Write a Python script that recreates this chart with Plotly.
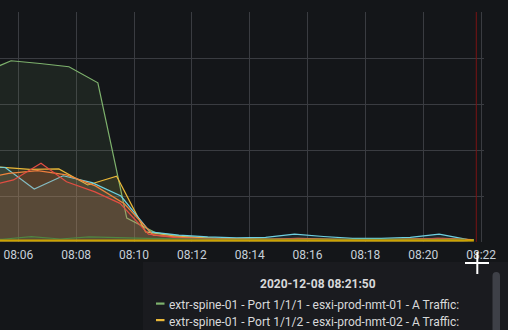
import plotly.graph_objects as go

DATE = "2020-12-08 "

# ---- data (values in Gb/s) ----
green_times = ["08:04:45", "08:05:45", "08:06:45", "08:07:45", "08:08:45", "08:09:45", "08:10:45", "08:11:45", "08:12:45",
               "08:13:45", "08:14:45", "08:15:45", "08:16:45", "08:17:45", "08:18:45", "08:19:45", "08:20:45", "08:21:45"]
green_vals = [3.67, 3.94, 3.88, 3.81, 3.46, 0.52, 0.20, 0.12, 0.08, 0.06, 0.05, 0.06, 0.05, 0.05, 0.05, 0.05, 0.06, 0.05]

yellow_times = ["08:04:24", "08:05:24", "08:06:24", "08:07:24", "08:08:24", "08:09:24", "08:10:24", "08:11:24", "08:12:24",
                "08:13:24", "08:14:24", "08:15:24", "08:16:24", "08:17:24", "08:18:24", "08:19:24", "08:20:24", "08:21:24"]
yellow_vals = [1.67, 1.63, 1.58, 1.59, 1.24, 1.43, 0.22, 0.13, 0.09, 0.07, 0.06, 0.06, 0.05, 0.05, 0.05, 0.06, 0.07, 0.05]

cyan_times = ["08:04:33", "08:05:33", "08:06:33", "08:07:33", "08:08:33", "08:09:33", "08:10:33", "08:11:33", "08:12:33",
              "08:13:33", "08:14:33", "08:15:33", "08:16:33", "08:17:33", "08:18:33", "08:19:33", "08:20:33", "08:21:33"]
cyan_vals = [1.65, 1.62, 1.15, 1.44, 1.29, 1.00, 0.22, 0.15, 0.11, 0.09, 0.10, 0.17, 0.12, 0.08, 0.08, 0.10, 0.17, 0.05]

orange_times = ["08:04:40", "08:05:40", "08:06:40", "08:07:40", "08:08:40", "08:09:40", "08:10:40", "08:11:40", "08:12:40",
                "08:13:40", "08:14:40", "08:15:40", "08:16:40", "08:17:40", "08:18:40", "08:19:40", "08:20:40", "08:21:40"]
orange_vals = [1.37, 1.49, 1.55, 1.46, 1.22, 0.83, 0.15, 0.10, 0.07, 0.06, 0.06, 0.08, 0.06, 0.05, 0.05, 0.06, 0.08, 0.05]

red_times = ["08:04:50", "08:05:50", "08:06:47", "08:07:40", "08:08:39", "08:09:31", "08:10:30", "08:11:30", "08:12:30",
             "08:13:30", "08:14:30", "08:15:30", "08:16:30", "08:17:30", "08:18:30", "08:19:30", "08:20:30", "08:21:30"]
red_vals = [1.20, 1.35, 1.71, 1.31, 1.09, 0.84, 0.17, 0.09, 0.07, 0.05, 0.05, 0.07, 0.05, 0.04, 0.04, 0.05, 0.08, 0.04]

dkgreen_times = ["08:04:27", "08:05:27", "08:06:27", "08:07:27", "08:08:27", "08:09:27", "08:10:27", "08:11:27", "08:12:27",
                 "08:13:27", "08:14:27", "08:15:27", "08:16:27", "08:17:27", "08:18:27", "08:19:27", "08:20:27", "08:21:27"]
dkgreen_vals = [0.06, 0.06, 0.115, 0.065, 0.11, 0.09, 0.08, 0.07, 0.06, 0.06, 0.06, 0.06, 0.06, 0.06, 0.06, 0.06, 0.06, 0.06]

gold_times = green_times
gold_vals = [0.03, 0.03, 0.03, 0.03, 0.03, 0.03, 0.03, 0.03, 0.03, 0.03, 0.03, 0.03, 0.03, 0.03, 0.03, 0.03, 0.03, 0.03]

series = [
    ("extr-spine-01 - Port 1/1/1 - esxi-prod-nmt-01 - A Traffic", "#7EB26D", green_times, green_vals),
    ("extr-spine-01 - Port 1/1/2 - esxi-prod-nmt-02 - A Traffic", "#EAB839", yellow_times, yellow_vals),
    ("extr-spine-01 - Port 1/1/3 - esxi-prod-nmt-03 - A Traffic", "#6ED0E0", cyan_times, cyan_vals),
    ("extr-spine-01 - Port 1/1/4 - esxi-prod-nmt-04 - A Traffic", "#EF843C", orange_times, orange_vals),
    ("extr-spine-01 - Port 1/1/5 - esxi-prod-nmt-05 - A Traffic", "#E24D42", red_times, red_vals),
    ("extr-spine-01 - Port 1/1/6 - esxi-prod-nmt-06 - A Traffic", "#508642", dkgreen_times, dkgreen_vals),
    ("extr-spine-01 - Port 1/1/7 - esxi-prod-nmt-07 - A Traffic", "#CCA300", gold_times, gold_vals),
]

tooltip_time = "2020-12-08 08:21:50"
tooltip_rows = [series[0], series[1]]

x_range = [DATE + "08:05:22", DATE + "08:22:06"]

# ---- layout geometry (pixels) ----
W, H = 508, 330
PL, PR, PT, PB = 0, 484, 12, 242
BG = "#141619"
TEXT = "#d8d9da"


def px(x):
    return (x - PL) / (PR - PL)


def py(y):
    return (PB - y) / (PB - PT)


def rgba(hexc, a):
    h = hexc.lstrip("#")
    return "rgba(%d,%d,%d,%.2f)" % (int(h[0:2], 16), int(h[2:4], 16), int(h[4:6], 16), a)


fig = go.Figure()
for name, color, times, vals in series:
    fig.add_trace(go.Scatter(
        x=[DATE + t for t in times], y=vals, name=name, mode="lines",
        line=dict(color=color, width=1.2 if color != "#CCA300" else 2),
        fill="tozeroy", fillcolor=rgba(color, 0.10), showlegend=False,
    ))

shapes = []
# hover crosshair line
shapes.append(dict(type="line", xref="x", yref="paper", x0=tooltip_time, x1=tooltip_time, y0=0, y1=1,
                   line=dict(color="#7a1414", width=1)))
# tooltip box
shapes.append(dict(type="rect", xref="paper", yref="paper", x0=px(143), x1=px(512), y0=py(262), y1=py(334),
                   fillcolor="#1a1b1f", line=dict(width=0), layer="above"))
# scrollbar
sx0, sx1, sy0 = px(492.5), px(500), py(272)
shapes.append(dict(type="path", xref="paper", yref="paper",
                   path="M %f %f L %f %f Q %f %f %f %f Q %f %f %f %f L %f %f Z" % (
                       sx0, py(334), sx0, py(276), sx0, sy0, (sx0 + sx1) / 2, sy0, sx1, sy0, sx1, py(276), sx1, py(334)),
                   fillcolor="#3e4047", line=dict(width=0), layer="above"))

annotations = [dict(xref="paper", yref="paper", x=px(317.5), y=py(283.5), text="<b>%s</b>" % tooltip_time,
                    showarrow=False, xanchor="center", yanchor="middle", font=dict(family="Roboto", size=12, color=TEXT))]
row_y = [305, 321.5]
for (name, color, _, _), ry in zip(tooltip_rows, row_y):
    shapes.append(dict(type="rect", xref="paper", yref="paper", x0=px(156), x1=px(164.5), y0=py(ry - 0.3), y1=py(ry - 2.5),
                       fillcolor=color, line=dict(width=0), layer="above"))
    annotations.append(dict(xref="paper", yref="paper", x=px(166.5), y=py(ry), text=name + ":", showarrow=False,
                            xanchor="left", yanchor="middle", font=dict(family="Roboto", size=12, color=TEXT)))

# mouse cursor
shapes.append(dict(type="line", xref="paper", yref="paper", x0=px(465), x1=px(489), y0=py(263), y1=py(263),
                   line=dict(color="#ffffff", width=2), layer="above"))
shapes.append(dict(type="line", xref="paper", yref="paper", x0=px(477.3), x1=px(477.3), y0=py(252), y1=py(274),
                   line=dict(color="#ffffff", width=2), layer="above"))

fig.update_layout(
    width=W, height=H, margin=dict(l=PL, r=W - PR, t=PT, b=H - PB),
    paper_bgcolor=BG, plot_bgcolor=BG,
    font=dict(family="Roboto", size=12, color=TEXT),
    xaxis=dict(type="date", range=x_range, tick0=DATE + "08:00", dtick=120000, tickformat="%H:%M",
               showgrid=True, gridcolor="#3a3c41", gridwidth=1, zeroline=False, showline=False, ticks="",
               ticklabelstandoff=4,
               tickfont=dict(family="Roboto", size=12, color="#c7d0d9")),
    yaxis=dict(range=[0, 5], dtick=1, showticklabels=False, showgrid=True, gridcolor="#3a3c41", gridwidth=1,
               zeroline=False, showline=False, ticks=""),
    shapes=shapes, annotations=annotations, hovermode=False,
)

fig.write_html("out.html", config={"displayModeBar": False})
